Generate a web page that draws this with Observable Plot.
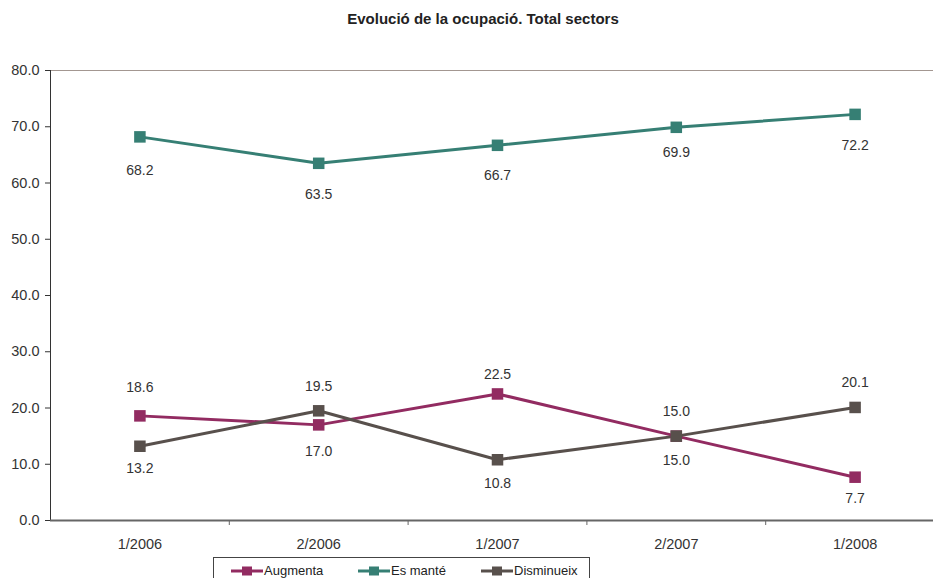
<!DOCTYPE html>
<html><head><meta charset="utf-8">
<script src="https://cdn.jsdelivr.net/npm/d3@7"></script>
<script src="https://cdn.jsdelivr.net/npm/@observablehq/plot@0.6"></script>
<style>
body{margin:0;background:#fff;font-family:"Liberation Sans",Arial,sans-serif;width:933px;height:578px;overflow:hidden;position:relative}
#title{position:absolute;top:10px;left:0;width:966px;text-align:center;font-weight:bold;font-size:15px;color:#222}
#chart{position:absolute;top:40px;left:0}
#legend{position:absolute;top:557px;left:213px;width:375px;height:30px;border:1px solid #444;background:#fff}
.item{position:absolute;top:5px;font-size:13px;color:#222;display:flex;align-items:center;white-space:nowrap}
</style></head><body>
<div id="title">Evolució de la ocupació. Total sectors</div>
<div id="chart"></div>
<div id="legend"></div>
<script>
const periods = ["1/2006","2/2006","1/2007","2/2007","1/2008"];
const seriesNames = ["Augmenta","Es manté","Disminueix"];
const augmenta = [18.6,17.0,22.5,15.0,7.7];
const esMante = [68.2,63.5,66.7,69.9,72.2];
const disminueix = [13.2,19.5,10.8,15.0,20.1];
const colors = ["#922b61","#367f74","#58504c"];
const yTicks = [0,10,20,30,40,50,60,70,80];

// label placement (pixels from the marker, as placed in the original chart)
const labelDy = {
  "Augmenta":   [-28, 27, -19, 24, 21],
  "Es manté":   [34, 31, 30, 25, 31],
  "Disminueix": [22, -24, 24, -25, -25]
};

const seriesValues = [augmenta, esMante, disminueix];
const rows = seriesNames.flatMap((s, k) => seriesValues[k].map((v, i) => ({series: s, i, v, dy: labelDy[s][i]})));
const labelMarks = Array.from(d3.group(rows, d => d.dy), ([dy, group]) =>
  Plot.text(group, {x: "i", y: "v", text: d => d.v.toFixed(1), dy, fill: "#333", fontSize: 14}));

const chart = Plot.plot({
  width: 933, height: 515,
  marginTop: 30, marginBottom: 35, marginLeft: 50, marginRight: 0,
  style: {fontFamily: "'Liberation Sans', Arial, sans-serif", fontSize: "14px", color: "#333", background: "transparent", overflow: "visible"},
  x: {domain: [-0.5, 4.5], range: [50, 944], label: null},
  y: {domain: [0, 80], range: [480, 30], label: null},
  color: {domain: seriesNames, range: colors},
  marks: [
    Plot.ruleY([80], {x1: -0.5, x2: 4.5, stroke: "#a39791", strokeWidth: 1}),
    Plot.axisY(yTicks, {label: null, tickFormat: d => d.toFixed(1), tickSize: 5, tickPadding: 6, stroke: "#333", fill: "#333", fontSize: 14.5}),
    Plot.ruleX([-0.5], {y1: 0, y2: 80, stroke: "#333", strokeWidth: 1}),
    Plot.axisX([0.5, 1.5, 2.5, 3.5], {label: null, tickSize: 5, tickFormat: () => "", stroke: "#666"}),
    Plot.axisX([0, 1, 2, 3, 4], {label: null, tickSize: 0, tickPadding: 18, tickFormat: i => periods[i], fill: "#333", fontSize: 14.5}),
    Plot.ruleY([0], {x1: -0.5, x2: 4.5, stroke: "#666", strokeWidth: 2}),
    Plot.line(rows, {x: "i", y: "v", z: "series", stroke: "series", strokeWidth: 3}),
    Plot.dot(rows, {x: "i", y: "v", symbol: "square", r: 6.5, fill: "series", stroke: "none"}),
    ...labelMarks
  ]
});
document.getElementById("chart").append(chart);

const lefts = [17, 144, 267];
const legend = document.getElementById("legend");
seriesNames.forEach((s, k) => {
  const el = document.createElement("div");
  el.className = "item";
  el.style.left = lefts[k] + "px";
  el.innerHTML = `<svg width="32" height="12" style="margin-right:1px"><line x1="0" x2="32" y1="6" y2="6" stroke="${colors[k]}" stroke-width="3"/><rect x="11" y="1.5" width="10" height="9" fill="${colors[k]}"/></svg><span>${s}</span>`;
  legend.append(el);
});
</script>
</body></html>
